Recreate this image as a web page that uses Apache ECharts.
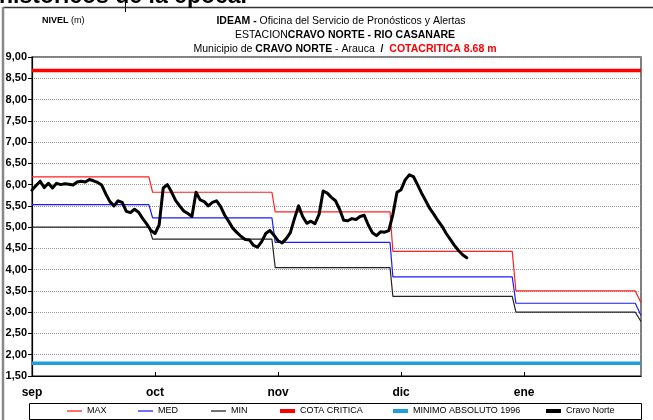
<!DOCTYPE html>
<html>
<head>
<meta charset="utf-8">
<script src="https://cdn.jsdelivr.net/npm/echarts@6/dist/echarts.min.js"></script>
<style>
  html, body { margin: 0; padding: 0; background: #fff; }
  #chart { width: 653px; height: 420px; }
</style>
</head>
<body>
<div id="chart"></div>
<script>
// Month labels on the horizontal axis (one tick every 30 days from 1 Sep)
const meses = ['sep', 'oct', 'nov', 'dic', 'ene'];

// Days (counted from 1 Sep) where each monthly statistic begins and ends
const diasInicio = [0, 29.4, 59.3, 88.0, 118.0];
const diasFin = [28.5, 58.5, 87.3, 117.1, 147.1];
const diaFinal = 148.5;

// Historical monthly levels (m); the last value closes the period
const nivelMax = [6.18, 5.82, 5.36, 4.43, 3.50, 3.22];
const nivelMed = [5.53, 5.22, 4.64, 3.83, 3.21, 2.92];
const nivelMin = [5.00, 4.72, 4.05, 3.37, 3.00, 2.78];

// Reference levels (m)
const cotaCritica = 8.68;
const minimoAbsoluto = 1.80;

// Daily observed level at Cravo Norte, starting 1 Sep (m)
const cravoNorte = [
  5.87, 5.98, 6.08, 5.93, 6.03, 5.92, 6.03, 6.00, 6.02, 6.01,
  5.99, 6.06, 6.08, 6.06, 6.12, 6.09, 6.05, 5.99, 5.78, 5.60,
  5.50, 5.62, 5.58, 5.37, 5.34, 5.42, 5.35, 5.20, 5.07, 4.92,
  4.85, 5.05, 5.92, 6.00, 5.83, 5.63, 5.50, 5.38, 5.32, 5.25,
  5.82, 5.64, 5.60, 5.50, 5.58, 5.62, 5.48, 5.28, 5.13, 4.97,
  4.87, 4.78, 4.71, 4.70, 4.57, 4.53, 4.66, 4.85, 4.92, 4.81,
  4.68, 4.63, 4.73, 4.87, 5.20, 5.50, 5.25, 5.09, 5.14, 5.08,
  5.30, 5.85, 5.80, 5.70, 5.62, 5.42, 5.16, 5.15, 5.20, 5.18,
  5.25, 5.28, 5.05, 4.87, 4.80, 4.89, 4.88, 4.92, 5.30, 5.82,
  5.88, 6.11, 6.23, 6.19, 6.00, 5.80, 5.62, 5.44, 5.30, 5.15,
  5.02, 4.85, 4.71, 4.57, 4.45, 4.35, 4.28
];

const FONT = '"Liberation Sans Narrow", "Arial Narrow", "Liberation Sans", Arial, sans-serif';

// Monthly step line: flat within each month, short ramp between months
function escalones(valores) {
  const pts = [];
  for (let i = 0; i < diasInicio.length; i++) {
    pts.push([diasInicio[i], valores[i]]);
    pts.push([diasFin[i], valores[i]]);
  }
  pts.push([diaFinal, valores[valores.length - 1]]);
  return pts;
}

function lineaConstante(v) {
  return [[0, v], [diaFinal, v]];
}

const chart = echarts.init(document.getElementById('chart'), null, { renderer: 'canvas' });

// One legend block per series so each entry sits in its own slot of the box
function leyenda(nombre, x, grosor) {
  return {
    data: [{ name: nombre, icon: 'rect' }],
    left: x,
    top: 405,
    itemWidth: 15,
    itemHeight: grosor,
    padding: 0,
    selectedMode: false,
    textStyle: { fontFamily: FONT, fontSize: 9, color: '#000', lineHeight: 12 }
  };
}

const option = {
  animation: false,
  backgroundColor: '#fff',
  title: [
    {
      text: '{b|NIVEL} (m)',
      left: 37, top: 11,
      textStyle: { fontFamily: FONT, fontSize: 9, fontWeight: 'normal', color: '#000',
        rich: { b: { fontFamily: FONT, fontSize: 9, fontWeight: 'bold', color: '#000' } } }
    },
    {
      text: '{b|IDEAM -} Oficina del Servicio de Pronósticos y Alertas',
      left: 336, top: 11, textAlign: 'center',
      textStyle: { fontFamily: FONT, fontSize: 10.5, fontWeight: 'normal', color: '#000',
        rich: { b: { fontFamily: FONT, fontSize: 10.5, fontWeight: 'bold', color: '#000' } } }
    },
    {
      text: 'ESTACION{b|CRAVO NORTE - RIO CASANARE}',
      left: 340, top: 25, textAlign: 'center',
      textStyle: { fontFamily: FONT, fontSize: 10.5, fontWeight: 'normal', color: '#000',
        rich: { b: { fontFamily: FONT, fontSize: 10.5, fontWeight: 'bold', color: '#000' } } }
    },
    {
      text: 'Municipio de {b|CRAVO NORTE} - Arauca  {b|/}  {r|COTACRITICA 8.68 m}',
      left: 340, top: 39, textAlign: 'center',
      textStyle: { fontFamily: FONT, fontSize: 10.5, fontWeight: 'normal', color: '#000',
        rich: {
          b: { fontFamily: FONT, fontSize: 10.5, fontWeight: 'bold', color: '#000' },
          r: { fontFamily: FONT, fontSize: 10.5, fontWeight: 'bold', color: '#ff0000' }
        } }
    }
  ],
  legend: [
    leyenda('MAX', 67, 1.5),
    leyenda('MED', 138, 1.5),
    leyenda('MIN', 211, 1.5),
    leyenda('COTA CRITICA', 280, 4),
    leyenda('MINIMO ABSOLUTO 1996', 393, 4),
    leyenda('Cravo Norte', 546, 4)
  ],
  grid: {
    left: 32, right: 12, top: 57, bottom: 44,
    show: true, borderColor: '#555', borderWidth: 1.5, backgroundColor: '#fff'
  },
  xAxis: {
    type: 'value',
    min: 0, max: diaFinal, interval: 30,
    axisLine: { show: true, onZero: false, lineStyle: { color: '#000', width: 1.2 } },
    axisTick: { show: true, inside: true, length: 4, lineStyle: { color: '#000' } },
    splitLine: { show: false },
    axisLabel: {
      margin: 11, color: '#000', fontFamily: 'Liberation Sans, Arial, sans-serif',
      fontSize: 12, fontWeight: 'bold', showMaxLabel: false,
      formatter: v => (v % 30 === 0 ? meses[v / 30] || '' : '')
    }
  },
  yAxis: {
    type: 'value',
    min: 1.5, max: 9, interval: 0.5,
    axisLine: { show: true, lineStyle: { color: '#000', width: 1.2 } },
    axisTick: { show: true, length: 4, lineStyle: { color: '#000' } },
    splitLine: { show: true, lineStyle: { color: '#999', type: 'dotted', width: 1 } },
    axisLabel: {
      margin: 5, color: '#000', fontFamily: 'Liberation Sans, Arial, sans-serif',
      fontSize: 11, fontWeight: 'bold',
      formatter: v => v.toFixed(2).replace('.', ',')
    }
  },
  series: [
    { name: 'MAX', type: 'line', data: escalones(nivelMax), symbol: 'none',
      lineStyle: { color: '#ff2020', width: 1.2 }, itemStyle: { color: '#ff4040' }, z: 3 },
    { name: 'MED', type: 'line', data: escalones(nivelMed), symbol: 'none',
      lineStyle: { color: '#1a1aff', width: 1.2 }, itemStyle: { color: '#4040ff' }, z: 3 },
    { name: 'MIN', type: 'line', data: escalones(nivelMin), symbol: 'none',
      lineStyle: { color: '#222', width: 1.2 }, itemStyle: { color: '#444' }, z: 3 },
    { name: 'COTA CRITICA', type: 'line', data: lineaConstante(cotaCritica), symbol: 'none',
      lineStyle: { color: '#ff0000', width: 3.5 }, itemStyle: { color: '#ff0000' }, z: 4 },
    { name: 'MINIMO ABSOLUTO 1996', type: 'line', data: lineaConstante(minimoAbsoluto), symbol: 'none',
      lineStyle: { color: '#1fa0d8', width: 3.5 }, itemStyle: { color: '#1fa0d8' }, z: 4 },
    { name: 'Cravo Norte', type: 'line', data: cravoNorte.map((v, i) => [i, v]), symbol: 'none',
      lineStyle: { color: '#000', width: 3, join: 'round', cap: 'round' }, itemStyle: { color: '#000' }, z: 5 }
  ],
  graphic: [
    // heading line cut by the page edge
    { type: 'text', left: -1, top: -15, z: 1,
      style: { text: 'históricos de la época.', font: 'bold 23px "Liberation Sans", Arial, sans-serif', fill: '#000' } },
    { type: 'line', shape: { x1: 125.5, y1: 0, x2: 125.5, y2: 12 }, style: { stroke: '#000', lineWidth: 1 } },
    // outer frame
    { type: 'line', shape: { x1: 3, y1: 7.5, x2: 653, y2: 7.5 }, style: { stroke: '#333', lineWidth: 1.5 } },
    { type: 'line', shape: { x1: 3, y1: 7, x2: 3, y2: 420 }, style: { stroke: '#888', lineWidth: 2.5 } },
    // legend box
    { type: 'rect', shape: { x: 29.5, y: 403.5, width: 612, height: 16 },
      style: { fill: 'none', stroke: '#000', lineWidth: 1 }, z: -1 }
  ]
};

chart.setOption(option);
</script>
</body>
</html>
